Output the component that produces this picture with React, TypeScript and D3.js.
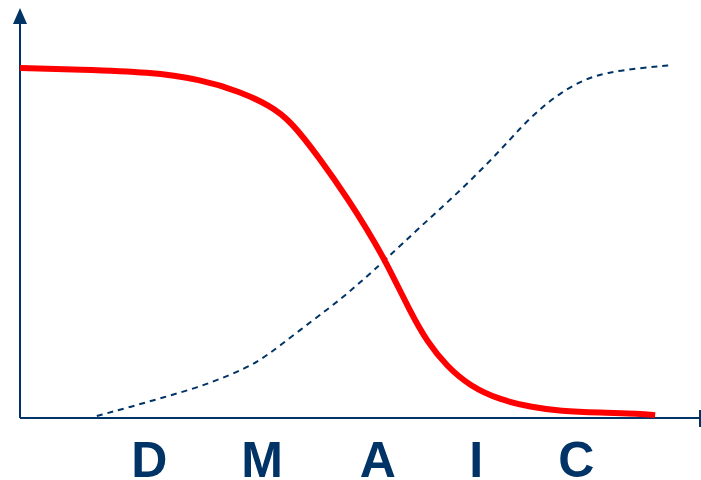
import React from "react";
import * as d3 from "d3";

const phases = ["D", "M", "A", "I", "C"];
const phasePos = [19.0, 35.6, 52.6, 67.1, 81.8];

const redX = [0, 8.8, 19.1, 26.5, 32.4, 36.8, 39.7, 44.1, 48.5, 51.0, 53.7, 57.4, 59.9, 62.8, 66.2, 70.6, 75.4, 79.4, 85.3, 91.2, 93.4];
const redY = [85.8, 85.4, 84.8, 83.0, 80.0, 76.5, 73.0, 63.6, 53.0, 46.3, 38.7, 26.0, 18.6, 12.6, 7.8, 4.4, 2.6, 1.7, 1.3, 1.1, 0.7];

const dashX = [11.3, 16.2, 21.0, 26.0, 30.9, 34.9, 38.2, 43.1, 47.1, 50.4, 53.7, 58.8, 64.7, 70.6, 73.5, 76.5, 79.4, 82.8, 86.3, 91.2, 96.0];
const dashY = [0.5, 2.7, 5.0, 7.4, 10.5, 13.6, 17.7, 24.0, 29.0, 33.8, 38.7, 46.8, 55.6, 65.5, 71.0, 75.8, 79.6, 82.9, 84.7, 85.8, 86.5];

const W = 701;
const H = 480;
const navy = "#003366";

export default function App() {
  const x = d3.scaleLinear().domain([0, 100]).range([20, 700]);
  const y = d3.scaleLinear().domain([0, 100]).range([418, 10]);
  const line = d3
    .line<[number, number]>()
    .x((d) => x(d[0]))
    .y((d) => y(d[1]))
    .curve(d3.curveBasis);
  const red = line(redX.map((v, i) => [v, redY[i]] as [number, number])) || "";
  const dash = line(dashX.map((v, i) => [v, dashY[i]] as [number, number])) || "";
  const x0 = x(0);
  const y0 = y(0);
  return (
    <svg
      width={W}
      height={H}
      style={{ position: "absolute", left: 0, top: 0, display: "block", background: "#fff" }}
    >
      <line x1={x0} y1={y0} x2={x0} y2={22} stroke={navy} strokeWidth={2} />
      <path d={`M${x0},8 L${x0 - 7},24 L${x0 + 7},24 Z`} fill={navy} />
      <line x1={x0} y1={y0} x2={x(100)} y2={y0} stroke={navy} strokeWidth={2} />
      <line x1={x(100)} y1={y0 - 8} x2={x(100)} y2={y0 + 9} stroke={navy} strokeWidth={2} />
      <path d={dash} fill="none" stroke={navy} strokeWidth={2} strokeDasharray="6,5" />
      <path d={red} fill="none" stroke="#ff0000" strokeWidth={6} strokeLinecap="butt" />
      {phases.map((p, i) => (
        <text
          key={p}
          x={x(phasePos[i])}
          y={477}
          textAnchor="middle"
          fontFamily="'Liberation Sans', Arial, sans-serif"
          fontWeight="bold"
          fontSize={50}
          fill={navy}
        >
          {p}
        </text>
      ))}
    </svg>
  );
}
